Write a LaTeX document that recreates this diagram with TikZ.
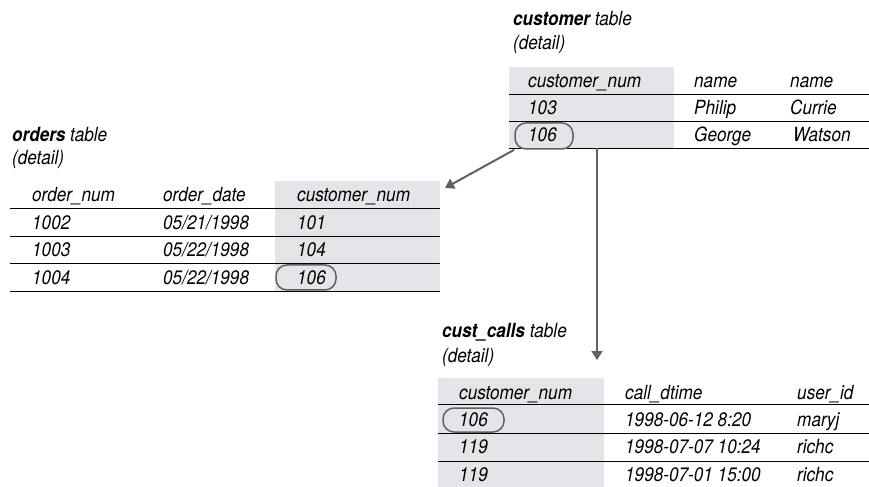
\documentclass[tikz,border=0pt]{standalone}
\usepackage{fontspec}
\setmainfont{TeX Gyre Heros}[FakeStretch=0.88]
\usetikzlibrary{arrows.meta}
\definecolor{bandgray}{RGB}{228,228,233}
\definecolor{linkgray}{RGB}{92,99,102}

\begin{document}
\begin{tikzpicture}[x=1bp,y=-1bp,
  every node/.style={inner sep=0pt,anchor=base west,font=\fontsize{19.5bp}{23bp}\selectfont\itshape},
  band/.style={fill=bandgray},
  rowline/.style={black,line width=0.9bp},
  oval/.style={draw=linkgray,line width=1.5bp,rounded corners=11bp,anchor=center},
  link/.style={draw=linkgray,line width=2bp,-{Triangle[width=11bp,length=9bp]}}]
\useasboundingbox (0,0) rectangle (869,487);

% customer table
\fill[band] (509,67) rectangle (674,148);
\draw[rowline] (509,94) -- (869,94);
\draw[rowline] (509,121) -- (869,121);
\draw[rowline] (509,148) -- (869,148);
\node (custtitle) at (513,26) {\textbf{customer} table};
\node (custdetail) at (513,50) {(detail)};
\node (custhnum) at (528,88) {customer\_num};
\node (custhname) at (694,88) {name};
\node (custhname2) at (790,88) {name};
\node (cust103) at (528,115) {103};
\node (custphilip) at (694,115) {Philip};
\node (custcurrie) at (790,115) {Currie};
\node (cust106) at (528,142) {106};
\node (custgeorge) at (694,142) {George};
\node (custwatson) at (793,142) {Watson};
\node[oval,minimum width=58bp,minimum height=26bp] (custoval) at (544,136) {};

% orders table
\fill[band] (275,181) rectangle (440,291);
\draw[rowline] (10,208) -- (440,208);
\draw[rowline] (10,236) -- (440,236);
\draw[rowline] (10,263) -- (440,263);
\draw[rowline] (10,291) -- (440,291);
\node (ordtitle) at (12,142) {\textbf{orders} table};
\node (orddetail) at (12,165) {(detail)};
\node (ordhnum) at (32,202) {order\_num};
\node (ordhdate) at (163,202) {order\_date};
\node (ordhcust) at (297,202) {customer\_num};
\node (ord1002) at (32,230) {1002};
\node (orddate1) at (163,230) {05/21/1998};
\node (ord101) at (297,230) {101};
\node (ord1003) at (32,257) {1003};
\node (orddate2) at (163,257) {05/22/1998};
\node (ord104) at (297,257) {104};
\node (ord1004) at (32,285) {1004};
\node (orddate3) at (163,285) {05/22/1998};
\node (ord106) at (297,285) {106};
\node[oval,minimum width=60bp,minimum height=25bp] (ordoval) at (306,277.5) {};

% cust_calls table
\fill[band] (438,378) rectangle (604,487);
\draw[rowline] (438,404) -- (869,404);
\draw[rowline] (438,433) -- (869,433);
\draw[rowline] (438,461) -- (869,461);
\node (calltitle) at (442,338) {\textbf{cust\_calls} table};
\node (calldetail) at (442,362) {(detail)};
\node (callhnum) at (459,399) {customer\_num};
\node (callhtime) at (625,399) {call\_dtime};
\node (callhuser) at (797,399) {user\_id};
\node (call106) at (459,426) {106};
\node (calltime1) at (625,426) {1998-06-12 8:20};
\node (calluser1) at (797,426) {maryj};
\node (call119a) at (459,453) {119};
\node (calltime2) at (625,453) {1998-07-07 10:24};
\node (calluser2) at (797,453) {richc};
\node (call119b) at (459,481) {119};
\node (calltime3) at (625,481) {1998-07-01 15:00};
\node (calluser3) at (797,481) {richc};
\node[oval,minimum width=61bp,minimum height=24bp] (calloval) at (473.5,420) {};

% links
\coordinate (ordtip) at (445,188);
\coordinate (callsrc) at (597,148);
\coordinate (calltip) at (597,360);
\draw[link] (custoval.south west) -- (ordtip);
\draw[link] (callsrc) -- (calltip);
\end{tikzpicture}
\end{document}
